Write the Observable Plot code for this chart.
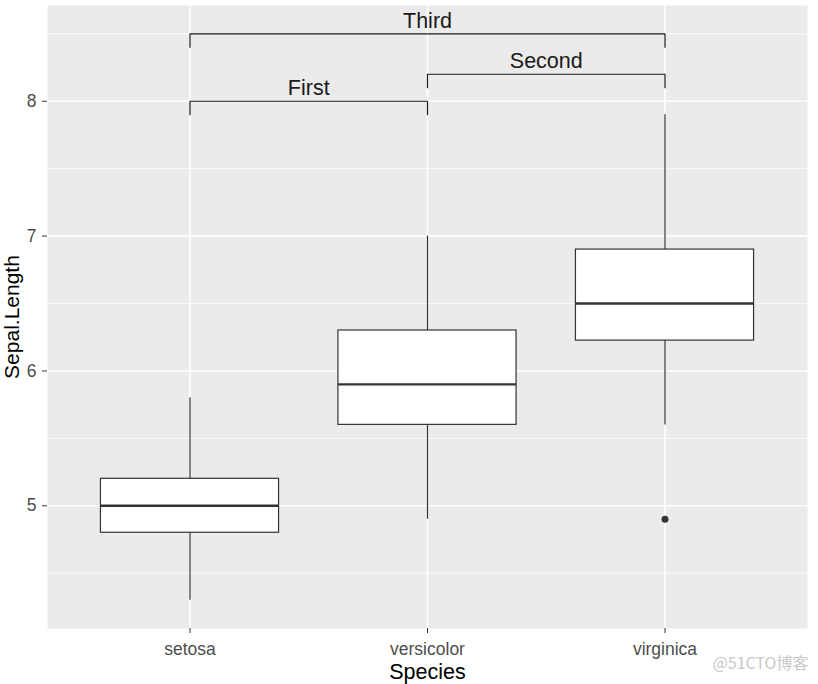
<!DOCTYPE html>
<html>
<head>
<meta charset="utf-8">
<script src="https://cdn.jsdelivr.net/npm/d3@7"></script>
<script src="https://cdn.jsdelivr.net/npm/@observablehq/plot@0.6"></script>
<style>
  html, body { margin: 0; padding: 0; background: #ffffff; }
  #chart svg { display: block; }
</style>
</head>
<body>
<div id="chart"></div>
<script>
// ---- data ----
const species = ["setosa", "versicolor", "virginica"];
const lowerWhisker = [4.3, 4.9, 5.6];
const q1 = [4.8, 5.6, 6.225];
const median = [5.0, 5.9, 6.5];
const q3 = [5.2, 6.3, 6.9];
const upperWhisker = [5.8, 7.0, 7.9];
const outlierSpecies = ["virginica"];
const outlierValue = [4.9];

const bracketLabels = ["First", "Second", "Third"];
const bracketFrom = ["setosa", "versicolor", "setosa"];
const bracketTo = ["versicolor", "virginica", "virginica"];
const bracketLevel = [8.0, 8.2, 8.5];
const bracketTip = 0.1;

const yTicks = [5, 6, 7, 8];
const yMinor = [4.5, 5.5, 6.5, 7.5, 8.5];

// ---- tables ----
const idx = s => species.indexOf(s);
const boxes = species.map((s, i) => ({
  i, lo: lowerWhisker[i], q1: q1[i], med: median[i], q3: q3[i], hi: upperWhisker[i]
}));
const outliers = outlierSpecies.map((s, k) => ({i: idx(s), v: outlierValue[k]}));
const bracketPts = [];
const bracketText = [];
bracketLabels.forEach((lab, k) => {
  const a = idx(bracketFrom[k]), b = idx(bracketTo[k]), y = bracketLevel[k];
  bracketPts.push({k, x: a, y: y - bracketTip}, {k, x: a, y}, {k, x: b, y}, {k, x: b, y: y - bracketTip});
  bracketText.push({x: (a + b) / 2, y, label: lab});
});

const half = 0.375;
const font = "'Liberation Sans', Arial, sans-serif";

const chart = Plot.plot({
  width: 818,
  height: 684,
  marginLeft: 47,
  marginRight: 11,
  marginTop: 5,
  marginBottom: 56,
  style: {fontFamily: font, background: "#ffffff"},
  x: {type: "linear", domain: [-0.6, 2.6], axis: null},
  y: {domain: [4.09, 8.71], axis: null},
  marks: [
    Plot.frame({fill: "#ebebeb", stroke: "none"}),
    Plot.ruleY(yMinor, {stroke: "#ffffff", strokeWidth: 0.8}),
    Plot.ruleY(yTicks, {stroke: "#ffffff", strokeWidth: 1.6}),
    Plot.ruleX(species.map((s, i) => i), {stroke: "#ffffff", strokeWidth: 1.6}),
    // whiskers
    Plot.ruleX(boxes, {x: "i", y1: "q3", y2: "hi", stroke: "#333333", strokeWidth: 1.2}),
    Plot.ruleX(boxes, {x: "i", y1: "lo", y2: "q1", stroke: "#333333", strokeWidth: 1.2}),
    // boxes
    Plot.rect(boxes, {x1: d => d.i - half, x2: d => d.i + half, y1: "q1", y2: "q3",
      fill: "#ffffff", stroke: "#333333", strokeWidth: 1.2}),
    Plot.ruleY(boxes, {x1: d => d.i - half, x2: d => d.i + half, y: "med",
      stroke: "#333333", strokeWidth: 2.4}),
    Plot.dot(outliers, {x: "i", y: "v", r: 3.5, fill: "#333333", stroke: "none"}),
    // brackets
    Plot.line(bracketPts, {x: "x", y: "y", z: "k", stroke: "#1a1a1a", strokeWidth: 1.2}),
    Plot.text(bracketText, {x: "x", y: "y", text: "label", dy: -13, fontSize: 21.5, fill: "#1a1a1a"}),
    // axes
    Plot.axisY(yTicks, {tickSize: 5, tickPadding: 6, fontSize: 17.5, color: "#4d4d4d", stroke: "#333333",
      tickFormat: d => String(d), label: null}),
    Plot.axisX([0, 1, 2], {tickSize: 5, tickPadding: 9, fontSize: 17.5, color: "#4d4d4d", stroke: "#333333",
      tickFormat: i => species[i], label: null}),
    Plot.text(["Sepal.Length"], {frameAnchor: "left", textAnchor: "middle", dx: -35, rotate: -90,
      fontSize: 21, fill: "#000000"}),
    Plot.text(["Species"], {frameAnchor: "bottom", dy: 50, fontSize: 21.5, fill: "#000000"}),
    Plot.text(["@51CTO博客"], {frameAnchor: "bottom-right", textAnchor: "end", dx: 1, dy: 40, fontSize: 16,
      fill: "#c8c8c8", fontFamily: "'Noto Sans CJK SC', sans-serif"})
  ]
});
document.getElementById("chart").appendChild(chart);
</script>
</body>
</html>
